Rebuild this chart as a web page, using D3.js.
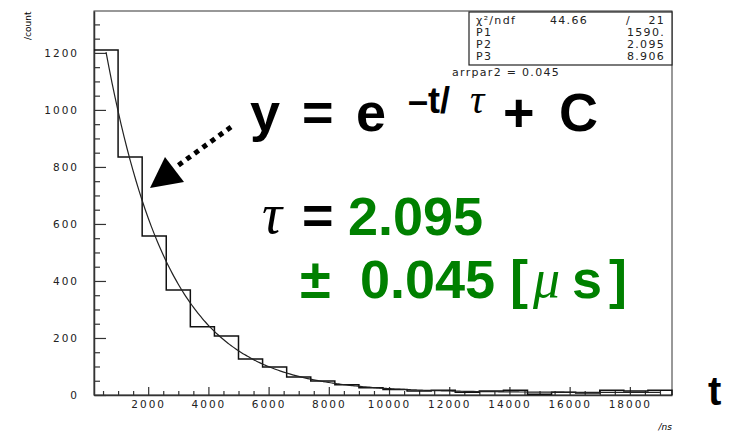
<!DOCTYPE html>
<html>
<head>
<meta charset="utf-8">
<script src="https://cdn.jsdelivr.net/npm/d3@7"></script>
<style>
  body { margin: 0; background: #fff; }
  svg { display: block; }
  .axis path { stroke: #333; stroke-width: 1.5; }
  .axis line { stroke: #333; stroke-width: 1.2; }
  .axis text { font-family: "DejaVu Sans", sans-serif; font-size: 10.5px; letter-spacing: 2px; fill: #222; }
  .big { font-family: "Liberation Sans", Arial, sans-serif; font-weight: bold; }
  .greek { font-family: "Liberation Serif", serif; font-style: italic; }
  .stat { font-family: "DejaVu Sans", sans-serif; font-size: 11px; letter-spacing: 1.3px; fill: #222; }
</style>
</head>
<body>
<svg id="chart" width="735" height="433"></svg>
<script>
// histogram of decay times (ns), 800 ns bins
const binEdges = [200, 1000, 1800, 2600, 3400, 4200, 5000, 5800, 6600, 7400, 8200, 9000, 9800,
  10600, 11400, 12200, 13000, 13800, 14600, 15400, 16200, 17000, 17800, 18600, 19400];
const counts = [1210, 835, 558, 368, 239, 207, 126, 98, 63, 49, 36, 25, 19,
  14, 17, 10, 14, 17, 3, 10, 7, 17, 14, 17];

// fit result shown in stats box: P1*exp(-t/P2) + P3, P2 in µs
const fitP1 = 1590, fitP2 = 2.095, fitP3 = 8.906;
const fitRange = [600, 19000];

const xTicks = [2000, 4000, 6000, 8000, 10000, 12000, 14000, 16000, 18000];
const yTicks = [0, 200, 400, 600, 800, 1000, 1200];

const statsRows = [
  ["χ²/ndf", "44.66", "/", "21"],
  ["P1", "", "", "1590."],
  ["P2", "", "", "2.095"],
  ["P3", "", "", "8.906"]
];

const svg = d3.select("#chart");
const frame = { left: 94, right: 672, top: 11, bottom: 395 };

const x = d3.scaleLinear().domain([200, 19400]).range([frame.left, frame.right]);
const y = d3.scaleLinear().domain([0, 1347]).range([frame.bottom, frame.top]);

// frame
svg.append("rect")
  .attr("x", frame.left).attr("y", frame.top)
  .attr("width", frame.right - frame.left).attr("height", frame.bottom - frame.top)
  .attr("fill", "none").attr("stroke", "#333").attr("stroke-width", 1);

// minor ticks
const xMinor = d3.range(500, 19400, 500).filter(v => !xTicks.includes(v));
const yMinor = d3.range(50, 1347, 50).filter(v => !yTicks.includes(v));

svg.append("g").attr("class", "axis")
  .attr("transform", `translate(0,${frame.bottom})`)
  .call(d3.axisBottom(x).tickValues(xMinor).tickFormat("").tickSizeInner(-4).tickSizeOuter(0))
  .select(".domain").remove();

svg.append("g").attr("class", "axis")
  .attr("transform", `translate(${frame.left},0)`)
  .call(d3.axisLeft(y).tickValues(yMinor).tickFormat("").tickSizeInner(-6).tickSizeOuter(0))
  .select(".domain").remove();

// major ticks + labels
svg.append("g").attr("class", "axis")
  .attr("transform", `translate(0,${frame.bottom})`)
  .call(d3.axisBottom(x).tickValues(xTicks).tickFormat(d3.format("d"))
    .tickSizeInner(-8).tickSizeOuter(0).tickPadding(6));

svg.append("g").attr("class", "axis")
  .attr("transform", `translate(${frame.left},0)`)
  .call(d3.axisLeft(y).tickValues(yTicks).tickFormat(d3.format("d"))
    .tickSizeInner(-12).tickSizeOuter(0).tickPadding(15));

// histogram step outline
const histPts = [];
counts.forEach((c, i) => {
  histPts.push([binEdges[i], c]);
  histPts.push([binEdges[i + 1], c]);
});
histPts.push([binEdges[binEdges.length - 1], 0]);
svg.append("path")
  .datum(histPts)
  .attr("fill", "none").attr("stroke", "#111").attr("stroke-width", 1.5)
  .attr("d", d3.line().x(d => x(d[0])).y(d => y(d[1])));

// fit curve
const fitPts = d3.range(fitRange[0], fitRange[1] + 1, 100)
  .map(t => [t, fitP1 * Math.exp(-t / 1000 / fitP2) + fitP3]);
svg.append("path")
  .datum(fitPts)
  .attr("fill", "none").attr("stroke", "#222").attr("stroke-width", 1.2)
  .attr("d", d3.line().x(d => x(d[0])).y(d => y(d[1])).curve(d3.curveMonotoneX));

// axis titles
svg.append("text")
  .attr("transform", "translate(31,40) rotate(-90)")
  .style("font-family", "DejaVu Sans").style("font-size", "9px")
  .text("/count");
svg.append("text")
  .attr("x", 672).attr("y", 430).attr("text-anchor", "end")
  .style("font-family", "DejaVu Sans").style("font-size", "9px").style("font-style", "italic")
  .text("/ns");

// stats box
const box = svg.append("g");
box.append("rect")
  .attr("x", 469).attr("y", 12).attr("width", 203).attr("height", 53)
  .attr("fill", "#fff").attr("stroke", "#222").attr("stroke-width", 1.2);
statsRows.forEach((r, i) => {
  const yy = 24 + i * 12;
  const t = box.append("g").attr("class", "stat");
  t.append("text").attr("x", 476).attr("y", yy).text(r[0]);
  if (r[1]) t.append("text").attr("x", 550).attr("y", yy).text(r[1]);
  if (r[2]) t.append("text").attr("x", 626).attr("y", yy).text(r[2]);
  t.append("text").attr("x", 665).attr("y", yy).attr("text-anchor", "end").text(r[3]);
});
svg.append("text").attr("class", "stat")
  .attr("x", 452).attr("y", 76)
  .text("arrpar2 = 0.045");

// annotation: formula
const big = svg.append("g").attr("class", "big");
big.append("text").attr("x", 250).attr("y", 131).style("font-size", "54px").text("y");
big.append("text").attr("x", 302).attr("y", 131).style("font-size", "54px").text("=");
big.append("text").attr("x", 356).attr("y", 131).style("font-size", "54px").text("e");
big.append("text").attr("x", 408).attr("y", 113).style("font-size", "36px").text("–t/");
svg.append("text").attr("class", "greek").attr("x", 470).attr("y", 113)
  .style("font-size", "40px").text("τ");
big.append("text").attr("x", 503).attr("y", 131).style("font-size", "54px").text("+");
big.append("text").attr("x", 559).attr("y", 131).style("font-size", "54px").text("C");

// tau result
const green = "#008000";
svg.append("text").attr("class", "greek").attr("x", 262).attr("y", 233)
  .style("font-size", "56px").text("τ");
big.append("text").attr("x", 302).attr("y", 234).style("font-size", "54px").text("=");
big.append("text").attr("x", 348).attr("y", 235).style("font-size", "54px").style("fill", green).text("2.095");

big.append("text").attr("x", 300).attr("y", 298).style("font-size", "56px").style("fill", green).text("±");
big.append("text").attr("x", 360).attr("y", 298).style("font-size", "54px").style("fill", green).text("0.045");
big.append("text").attr("x", 510).attr("y", 298).style("font-size", "54px").style("fill", green).text("[");
svg.append("text").attr("class", "greek").attr("x", 533).attr("y", 297)
  .style("font-size", "54px").style("fill", green).text("μ");
big.append("text").attr("x", 572).attr("y", 298).style("font-size", "54px").style("fill", green).text("s");
big.append("text").attr("x", 609).attr("y", 298).style("font-size", "54px").style("fill", green).text("]");

// t label
big.append("text").attr("x", 708).attr("y", 405).style("font-size", "40px").text("t");

// dotted arrow
svg.append("line")
  .attr("x1", 231).attr("y1", 127).attr("x2", 176).attr("y2", 167)
  .attr("stroke", "#000").attr("stroke-width", 5).attr("stroke-dasharray", "5,5");
svg.append("path")
  .attr("d", d3.line()([[150, 188], [165, 157], [184, 182]]) + "Z")
  .attr("fill", "#000");
</script>
</body>
</html>
